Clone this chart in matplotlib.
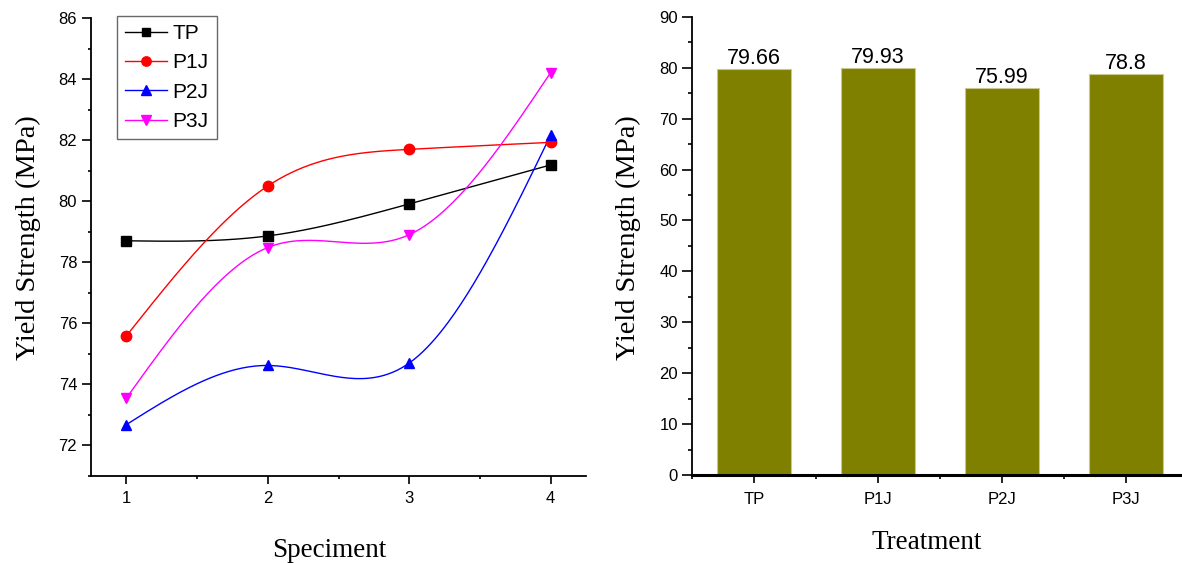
import numpy as np
import matplotlib
matplotlib.use("Agg")
from matplotlib import pyplot as plt
from matplotlib.ticker import MultipleLocator

# data
specimen = [1, 2, 3, 4]
tp = [78.70, 78.86, 79.91, 81.19]
p1j = [75.58, 80.50, 81.70, 81.93]
p2j = [72.67, 74.61, 74.69, 82.17]
p3j = [73.54, 78.48, 78.90, 84.22]
series_names = ["TP", "P1J", "P2J", "P3J"]

treatments = ["TP", "P1J", "P2J", "P3J"]
mean_strength = [79.66, 79.93, 75.99, 78.8]
mean_labels = ["79.66", "79.93", "75.99", "78.8"]

SANS = "Liberation Sans"
SERIF = "Liberation Serif"


# natural cubic spline, like Origin's spline connect
def spline(x, y, n=200):
    x = np.asarray(x, float)
    y = np.asarray(y, float)
    k = len(x)
    h = np.diff(x)
    A = np.zeros((k, k))
    b = np.zeros(k)
    A[0, 0] = 1
    A[-1, -1] = 1
    for i in range(1, k - 1):
        A[i, i - 1] = h[i - 1]
        A[i, i] = 2 * (h[i - 1] + h[i])
        A[i, i + 1] = h[i]
        b[i] = 6 * ((y[i + 1] - y[i]) / h[i] - (y[i] - y[i - 1]) / h[i - 1])
    M = np.linalg.solve(A, b)
    xs = np.linspace(x[0], x[-1], n)
    j = np.clip(np.searchsorted(x, xs) - 1, 0, k - 2)
    t0 = x[j + 1] - xs
    t1 = xs - x[j]
    hj = h[j]
    ys = (M[j] * t0 ** 3 + M[j + 1] * t1 ** 3) / (6 * hj) \
        + (y[j] / hj - M[j] * hj / 6) * t0 + (y[j + 1] / hj - M[j + 1] * hj / 6) * t1
    return xs, ys


fig = plt.figure(figsize=(11.82, 5.63), dpi=100)

# ---- left: yield strength per specimen
ax1 = fig.add_axes([0.0770, 0.1554, 0.4188, 0.8121])
colors = ["black", "red", "blue", "magenta"]
markers = ["s", "o", "^", "v"]
msizes = [6.5, 7.5, 7.5, 7.5]
for vals, name, c, m, ms in zip([tp, p1j, p2j, p3j], series_names, colors, markers, msizes):
    xs, ys = spline(specimen, vals)
    ax1.plot(xs, ys, color=c, lw=1.0, zorder=2)
    ax1.plot(specimen, vals, ls="none", marker=m, ms=ms, color=c, zorder=3)
    ax1.plot([], [], color=c, lw=1.0, marker=m, ms=ms, label=name)

ax1.set_xlim(0.75, 4.25)
ax1.set_ylim(71, 86)
ax1.set_xticks(specimen)
ax1.set_yticks(range(72, 87, 2))
ax1.xaxis.set_minor_locator(MultipleLocator(0.5))
ax1.yaxis.set_minor_locator(MultipleLocator(1))
ax1.tick_params(which="major", length=6.5, width=1.2, labelsize=12, pad=3.5)
ax1.tick_params(which="minor", length=2.5, width=1.2)
ax1.tick_params(axis="x", which="major", length=5.5, pad=6)
for lab in ax1.get_xticklabels() + ax1.get_yticklabels():
    lab.set_fontfamily(SANS)
for s in ["top", "right"]:
    ax1.spines[s].set_visible(False)
for s in ["left", "bottom"]:
    ax1.spines[s].set_linewidth(1.3)

ax1.set_xlabel("Speciment", fontfamily=SERIF, fontsize=19.5)
ax1.set_ylabel("Yield Strength (MPa)", fontfamily=SERIF, fontsize=20.5)
ax1.xaxis.set_label_coords(0.4818, -0.136)
ax1.yaxis.set_label_coords(-0.101, 0.5206)

leg = ax1.legend(loc="upper left", bbox_to_anchor=(0.053, 1.005), borderaxespad=0,
                 prop={"family": SANS, "size": 15}, frameon=True, fancybox=False,
                 edgecolor="#444444", handlelength=2.0, handletextpad=0.28,
                 borderpad=0.38, labelspacing=0.5, markerscale=0.9)
leg.get_frame().set_linewidth(1.0)

# ---- right: mean yield strength per treatment
ax2 = fig.add_axes([0.5854, 0.1558, 0.4196, 0.8146])
pos = np.arange(1, len(treatments) + 1)
bars = ax2.bar(pos, mean_strength, width=0.6, color="#808000",
               edgecolor="#c8c890", linewidth=0.8, zorder=2)
for rect, txt in zip(bars, mean_labels):
    ax2.annotate(txt, (rect.get_x() + rect.get_width() / 2, rect.get_height()),
                 xytext=(0, 0), textcoords="offset points", ha="center", va="bottom",
                 fontfamily=SANS, fontsize=15.5)

ax2.set_xlim(0.5, 4.5)
ax2.set_ylim(0, 90)
ax2.set_xticks(pos)
ax2.set_xticklabels(treatments)
ax2.set_yticks(range(0, 91, 10))
ax2.xaxis.set_minor_locator(MultipleLocator(0.5))
ax2.yaxis.set_minor_locator(MultipleLocator(5))
ax2.tick_params(which="major", length=7, width=1.2, labelsize=12, pad=3.2)
ax2.tick_params(which="minor", length=3, width=1.2)
ax2.tick_params(axis="x", which="major", length=6, pad=6)
for lab in ax2.get_xticklabels() + ax2.get_yticklabels():
    lab.set_fontfamily(SANS)
for s in ["top", "right"]:
    ax2.spines[s].set_visible(False)
ax2.spines["left"].set_linewidth(1.3)
ax2.spines["bottom"].set_linewidth(2.2)

ax2.set_xlabel("Treatment", fontfamily=SERIF, fontsize=19.5)
ax2.set_ylabel("Yield Strength (MPa)", fontfamily=SERIF, fontsize=20.5)
ax2.xaxis.set_label_coords(0.4728, -0.12)
ax2.yaxis.set_label_coords(-0.103, 0.519)

plt.savefig("out.png", dpi=100)
